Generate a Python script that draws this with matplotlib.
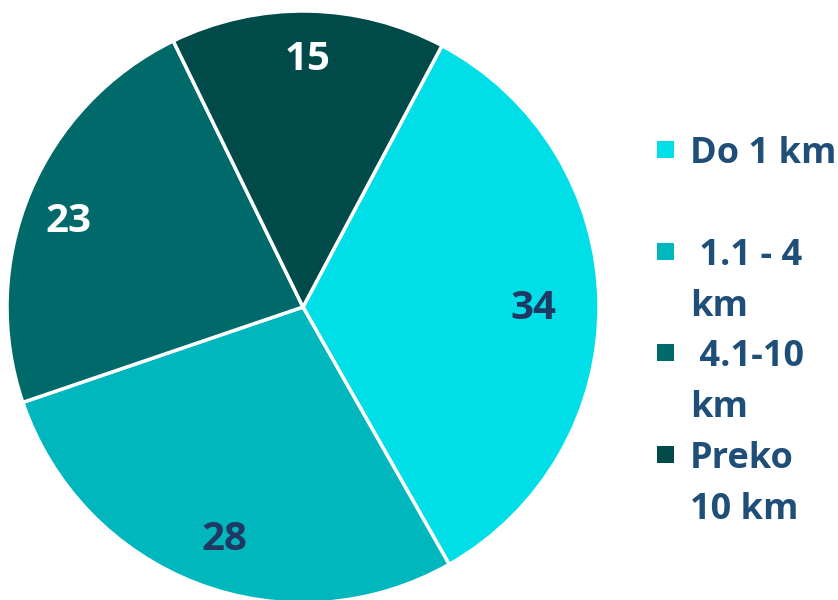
import matplotlib.pyplot as plt
from matplotlib.patches import Rectangle
import numpy as np

labels = ['Do 1 km', ' 1.1 - 4\nkm', ' 4.1-10\nkm', 'Preko\n10 km']
values = [34, 28, 23, 15]
colors = ['#00DEE8', '#00B7BD', '#006A6B', '#004A4A']
label_colors = ['#1F3864', '#1F3864', 'white', 'white']
label_dist = [0.78, 0.82, 0.85, 0.84]
label_nudge = [(0, 1), (8, 2), (-2, 7), (0, -3)]  # px (right, down)

plt.rcParams['font.family'] = ['Open Sans', 'DejaVu Sans']

W, H = 838, 600
fig = plt.figure(figsize=(W / 100, H / 100), dpi=100)
# pie centre (303, 307) px, radius 296 px
cx, cy, r = 303, 307, 296
ax = fig.add_axes([(cx - r) / W, (H - cy - r) / H, 2 * r / W, 2 * r / H])

wedges, _ = ax.pie(values, colors=colors, startangle=62, counterclock=False,
                   radius=1, wedgeprops=dict(edgecolor='white', linewidth=2.5))
ax.set_xlim(-1, 1)
ax.set_ylim(-1, 1)
ax.set_aspect('equal')
ax.axis('off')

# 数值标签
for w, v, c, d, (nx, ny) in zip(wedges, values, label_colors, label_dist, label_nudge):
    ang = np.deg2rad((w.theta1 + w.theta2) / 2)
    ax.text(d * np.cos(ang) + nx / r, d * np.sin(ang) - (14.5 + ny) / r, str(v),
            ha='center', va='baseline', fontsize=29, fontweight='bold', color=c)

# 图例
leg_y = [150, 252, 353, 455]
for lab, col, y in zip(labels, colors, leg_y):
    fig.patches.append(Rectangle((657 / W, 1 - (y + 8) / H), 17 / W, 17 / H,
                                 transform=fig.transFigure, facecolor=col, edgecolor='none'))
    for i, line in enumerate(lab.split('\n')):
        fig.text(690 / W, 1 - (y + i * 51 + 13) / H, line, ha='left', va='baseline',
                 fontsize=26, fontweight='bold', color='#1F4E79')

fig.savefig('out.png', dpi=100)
